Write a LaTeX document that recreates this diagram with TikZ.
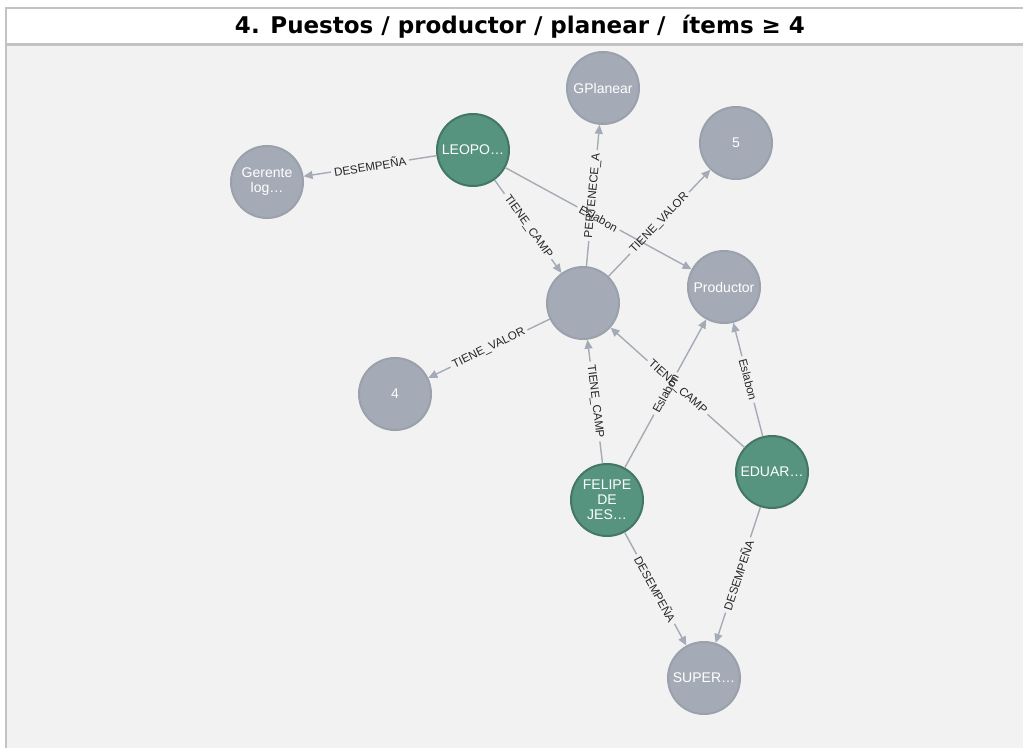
\documentclass[tikz,border=0pt]{standalone}
\usepackage{fontspec}
\setmainfont{Liberation Sans}
\newfontfamily\titlefont{DejaVu Sans}
\usetikzlibrary{arrows.meta}

\definecolor{bgc}{HTML}{F2F2F2}
\definecolor{framec}{HTML}{C3C3C3}
\definecolor{grayn}{HTML}{A5ABB6}
\definecolor{grayb}{HTML}{9AA1AC}
\definecolor{greenn}{HTML}{569480}
\definecolor{greenb}{HTML}{447666}
\definecolor{edgec}{HTML}{A5ABB6}
\definecolor{labelc}{HTML}{262626}

\tikzset{
  ent/.style={circle, minimum size=72pt, inner sep=0pt, line width=2pt,
    text=white, align=center, font=\fontsize{14}{15}\selectfont},
  prop/.style={ent, fill=grayn, draw=grayb},
  person/.style={ent, fill=greenn, draw=greenb},
  rel/.style={draw=edgec, line width=1.4pt},
  tipped/.style={-{Triangle[length=9pt,width=8pt]}},
  rlabel/.style={sloped, inner xsep=3pt, inner ysep=1pt,
    font=\fontsize{11.6}{12}\selectfont, text=labelc},
}

% relationship: label sits on the middle of the line, which is broken around it
\newcommand\relarrow[4]{%
  \path (#1) -- node[rlabel, name=#3] {#4} (#2);
  \draw[rel] (#1) -- (#3);
  \draw[rel, tipped] (#3) -- (#2);
}

\begin{document}
\begin{tikzpicture}[x=1pt, y=-1pt]
  \useasboundingbox (0,0) rectangle (1023,748);
  \fill[white] (0,0) rectangle (1023,748);
  \fill[bgc] (6.7,45.7) rectangle (1023,748);
  \draw[framec, line width=2pt] (5.7,748) -- (5.7,7.7) -- (1023,7.7);
  \draw[framec, line width=2.3pt] (5.7,44.5) -- (1023,44.5);

  \node[anchor=base, inner sep=0pt] (title) at (520,33)
    {\titlefont\bfseries\fontsize{23}{27}\selectfont 4. Puestos / productor / planear /\ \ ítems ≥ 4};

  % entities
  \node[prop]   (gplan)   at (603,88)  {GPlanear};
  \node[prop]   (five)    at (736,143) {5};
  \node[person] (leopo)   at (473,150) {LEOPO…};
  \node[prop]   (gerente) at (267,182) {Gerente\\log…};
  \node[prop]   (hub)     at (583,303) {};
  \node[prop]   (prod)    at (724,287) {Productor};
  \node[prop]   (four)    at (395,394) {4};
  \node[person] (felipe)  at (607,500) {FELIPE\\DE\\JES…};
  \node[person] (eduar)   at (772,472) {EDUAR…};
  \node[prop]   (super)   at (704,678) {SUPER…};

  % relationships
  \relarrow{leopo}{gerente}{l1}{DESEMPEÑA}
  \relarrow{leopo}{hub}{l2}{TIENE\_CAMP}
  \relarrow{leopo}{prod}{l3}{Eslabon}
  \relarrow{hub}{gplan}{l4}{PERTENECE\_A}
  \relarrow{hub}{five}{l5}{TIENE\_VALOR}
  \relarrow{hub}{four}{l6}{TIENE\_VALOR}
  \relarrow{felipe}{hub}{l7}{TIENE\_CAMP}
  \relarrow{felipe}{prod}{l8}{Eslabon}
  \relarrow{eduar}{hub}{l9}{TIENE\_CAMP}
  \relarrow{eduar}{prod}{l10}{Eslabon}
  \relarrow{felipe}{super}{l11}{DESEMPEÑA}
  \relarrow{eduar}{super}{l12}{DESEMPEÑA}
\end{tikzpicture}
\end{document}
